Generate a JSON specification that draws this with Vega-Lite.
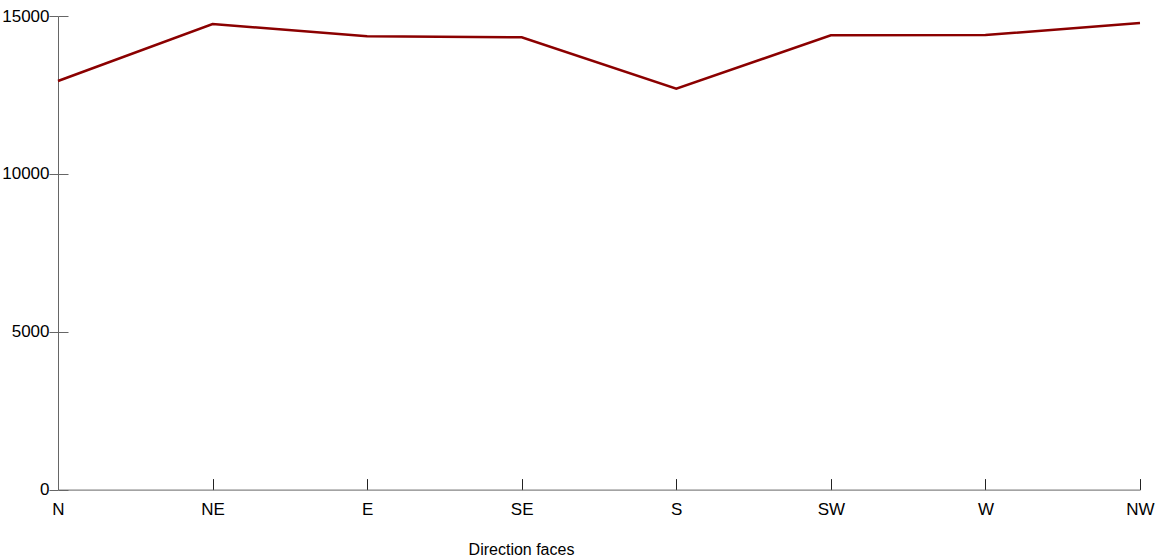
{
  "$schema": "https://vega.github.io/schema/vega-lite/v6.json",
  "width": 1082,
  "height": 473.6,
  "autosize": {"type": "none"},
  "padding": {"left": 58, "top": 16, "right": 23, "bottom": 68.4},
  "background": "white",
  "config": {"view": {"stroke": null}, "font": "Liberation Sans"},
  "data": {
    "values": [
      {"direction": "N", "value": 12941},
      {"direction": "NE", "value": 14747},
      {"direction": "E", "value": 14357},
      {"direction": "SE", "value": 14325},
      {"direction": "S", "value": 12698},
      {"direction": "SW", "value": 14388},
      {"direction": "W", "value": 14398},
      {"direction": "NW", "value": 14778}
    ]
  },
  "layer": [
    {
      "mark": {"type": "line", "color": "#8b0000", "strokeWidth": 2.5},
      "encoding": {
        "x": {
          "field": "direction",
          "type": "ordinal",
          "sort": null,
          "scale": {"type": "point", "padding": 0},
          "axis": {
            "title": "Direction faces",
            "labelAngle": 0,
            "labelFont": "Liberation Sans",
            "labelFontSize": 17,
            "labelColor": "black",
            "labelBaseline": "top",
            "labelPadding": 23,
            "tickSize": -11,
            "tickColor": "#222",
            "domainColor": "#666",
            "grid": false,
            "titleFont": "Liberation Sans",
            "titleFontSize": 16,
            "titleFontWeight": "normal",
            "titleColor": "black",
            "titleAnchor": "start",
            "titleAlign": "center",
            "titleX": 463,
            "titleY": 65,
            "titleBaseline": "alphabetic"
          }
        },
        "y": {
          "field": "value",
          "type": "quantitative",
          "scale": {"domain": [0, 15000], "nice": false},
          "axis": {
            "title": null,
            "values": [0, 5000, 10000, 15000],
            "format": "d",
            "labelFont": "Liberation Sans",
            "labelFontSize": 17,
            "labelColor": "black",
            "labelPadding": 0,
            "tickSize": 9,
            "tickColor": "#666",
            "domainColor": "#666",
            "grid": false
          }
        }
      }
    },
    {
      "mark": {"type": "line", "opacity": 0},
      "encoding": {
        "x": {"field": "direction", "type": "ordinal", "sort": null},
        "y": {
          "field": "value",
          "type": "quantitative",
          "scale": {"domain": [0, 15000], "nice": false},
          "axis": {
            "orient": "left",
            "title": null,
            "values": [0, 5000, 10000, 15000],
            "labels": false,
            "domain": false,
            "tickSize": -10,
            "tickColor": "#666",
            "grid": false
          }
        }
      }
    }
  ],
  "resolve": {"axis": {"y": "independent"}}
}
